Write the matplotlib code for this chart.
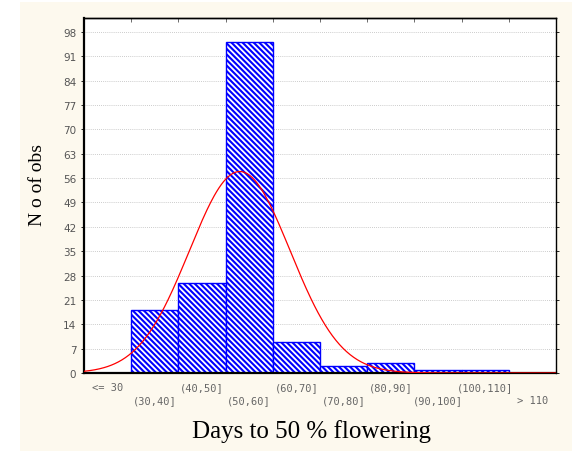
"""Histogram of days to 50 % flowering with fitted normal curve"""
import matplotlib.pyplot as plt
import matplotlib as mpl
import numpy as np

# data
bin_labels = ['<= 30', '(30,40]', '(40,50]', '(50,60]', '(60,70]',
              '(70,80]', '(80,90]', '(90,100]', '(100,110]', '> 110']
bin_mids = [25, 35, 45, 55, 65, 75, 85, 95, 105, 115]
counts = [0, 18, 26, 95, 9, 2, 3, 1, 1, 0]
y_ticks = [0, 7, 14, 21, 28, 35, 42, 49, 56, 63, 70, 77, 84, 91, 98]

mpl.rcParams['hatch.linewidth'] = 1.5
mpl.rcParams['hatch.color'] = '#0000ff'

fig = plt.figure(figsize=(5.72, 4.52), dpi=100)
fig.patch.set_facecolor('white')
# cream panel behind the chart
fig.add_artist(plt.Rectangle((20 / 572, 0), 1, (452 - 3) / 452,
                             transform=fig.transFigure, facecolor='#fdf9ee',
                             edgecolor='none', zorder=-10))

ax = fig.add_axes([84 / 572, 78 / 452, 472 / 572, 355 / 452])
ax.set_facecolor('white')

pos = np.arange(len(counts)) + 0.5
ax.bar(pos, counts, width=1.0, facecolor='white', edgecolor='#0000ff',
       hatch='\\' * 6, linewidth=1.0, zorder=2)

# fitted normal curve from the binned data
n = sum(counts)
mids = np.array(bin_mids, dtype=float)
cnt = np.array(counts, dtype=float)
mu = (mids * cnt).sum() / n
sd = np.sqrt(((mids - mu) ** 2 * cnt).sum() / n)
xv = np.linspace(20, 120, 400)
yv = n * 10 / (sd * np.sqrt(2 * np.pi)) * np.exp(-0.5 * ((xv - mu) / sd) ** 2)
ax.plot((xv - 20) / 10, yv, color='#ff0000', linewidth=0.9, zorder=3)

ax.set_xlim(0, 10)
ax.set_ylim(0, 102)
ax.set_yticks(y_ticks)
ax.grid(axis='y', color='#bbbbbb', linestyle=(0, (1, 1.5)), linewidth=0.6, zorder=0)
ax.set_axisbelow(True)

ax.set_xticks(pos)
ax.set_xticklabels([])
ax.tick_params(axis='x', length=0)
for i, lab in enumerate(bin_labels):
    yoff = -0.04 if i % 2 == 0 else -0.075
    ax.text(pos[i], yoff, lab, transform=ax.get_xaxis_transform(), ha='center',
            va='center', fontsize=7.5, family='DejaVu Sans Mono', color='#666666')

ax.tick_params(axis='y', labelsize=7.5, labelcolor='#555555', length=2, width=0.6,
               direction='out', right=True)

# top ticks at bin boundaries, pointing in
sec = ax.secondary_xaxis('top')
sec.set_xticks(np.arange(1, 10))
sec.set_xticklabels([])
sec.tick_params(direction='in', length=3, width=0.6, color='#555555')

for s in ['left', 'bottom']:
    ax.spines[s].set_linewidth(1.6)
ax.spines['top'].set_linewidth(1.0)
ax.spines['right'].set_linewidth(1.0)
sec.spines['top'].set_linewidth(1.0)

fig.text(37 / 572, 1 - 185 / 452, 'N o of obs', family='Liberation Serif',
         fontsize=14, rotation=90, ha='center', va='center')
fig.text(311 / 572, 1 - 432 / 452, 'Days to 50 % flowering', family='Liberation Serif',
         fontsize=18, ha='center', va='center')

fig.savefig('out.png', dpi=100)
